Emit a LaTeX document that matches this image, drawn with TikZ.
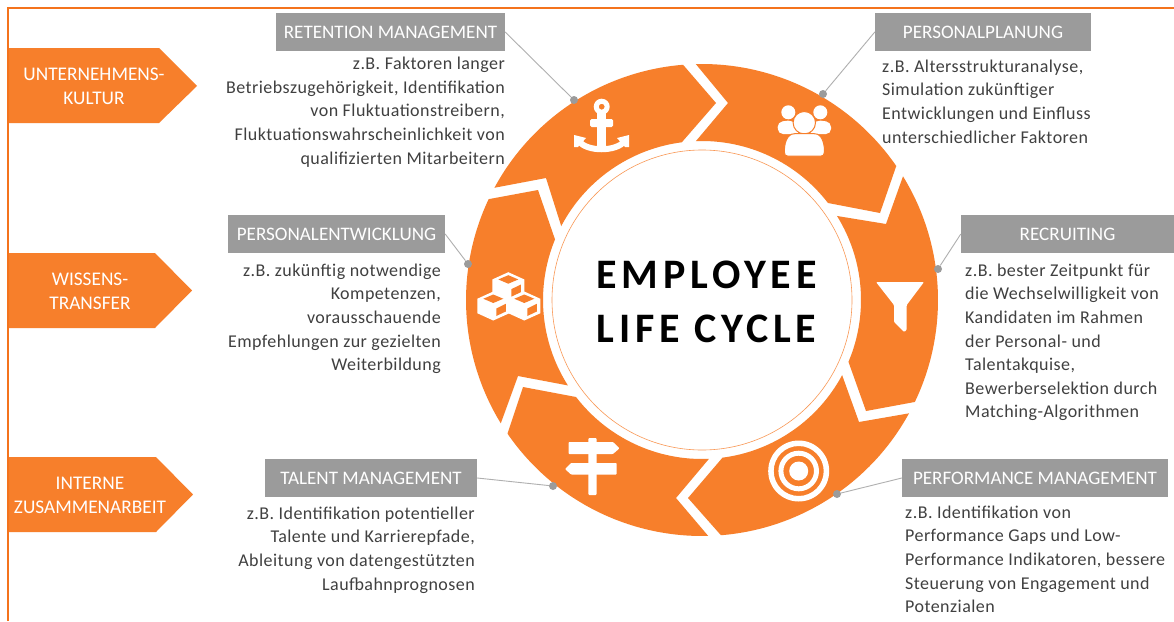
\documentclass[tikz,border=0pt]{standalone}
\usepackage{fontspec}
\setmainfont{Carlito}
\newfontfamily\titlefont[LetterSpace=11.5]{Carlito}
\newfontfamily\bodyfont[LetterSpace=2.5]{Carlito}
\definecolor{org}{HTML}{F77F2B}
\definecolor{frameorg}{HTML}{F4731C}
\definecolor{boxgray}{HTML}{9B9B9B}
\definecolor{txt}{HTML}{404040}
\tikzset{
  seg/.style={fill=org,draw=none},
  ico/.style={fill=white,draw=none},
  arrowshape/.style={fill=org,draw=none},
  arrowlabel/.style={text=white,font=\fontsize{19.3}{24}\selectfont,align=center,inner sep=0pt},
  headbox/.style={fill=boxgray,draw=none,text=white,font=\fontsize{19.1}{20}\selectfont,inner sep=0pt,minimum height=38pt},
  bodyleft/.style={text=txt,font=\bodyfont\fontsize{18}{23.6}\selectfont,align=left,anchor=north west,inner sep=0pt},
  bodyright/.style={text=txt,font=\bodyfont\fontsize{18}{23.6}\selectfont,align=right,anchor=north east,inner sep=0pt},
  leaderline/.style={draw=boxgray!80,line width=0.9pt},
  dotnode/.style={circle,fill=boxgray,draw=none,minimum size=8pt,inner sep=0pt},
}
\newcommand{\cubeicon}[2]{%
  \fill[ico] (#1,#2-14.5) -- (#1+16,#2-7.25) -- (#1+16,#2+7.25) -- (#1,#2+14.5) -- (#1-16,#2+7.25) -- (#1-16,#2-7.25) -- cycle;
  \fill[seg] (#1,#2-11.5) -- (#1+10,#2-7.25) -- (#1,#2-3) -- (#1-10,#2-7.25) -- cycle;
  \fill[seg] (#1+3,#2+2.5) -- (#1+12.5,#2-2.2) -- (#1+12.5,#2+5.5) -- (#1+3,#2+10) -- cycle;
}
\begin{document}
\begin{tikzpicture}[x=1pt,y=-1pt]
\useasboundingbox (0,0) rectangle (1174,621);
\fill[white] (0,0) rectangle (1174,621);
% frame
\draw[frameorg,line width=2pt] (8,621) -- (8,7.5) -- (1174,7.5);
% left arrows
\fill[arrowshape] (9,48) -- (159,48) -- (197,86) -- (159,123) -- (9,123) -- cycle;
\fill[arrowshape] (9,253) -- (155,253) -- (192,290.5) -- (155,328) -- (9,328) -- cycle;
\fill[arrowshape] (9,457) -- (156,457) -- (193,494.5) -- (156,532) -- (9,532) -- cycle;
\node[arrowlabel] (a1) at (94,86) {UNTERNEHMENS-\\KULTUR};
\node[arrowlabel] (a2) at (90,291) {WISSENS-\\TRANSFER};
\node[arrowlabel] (a3) at (90,495) {INTERNE\\ZUSAMMENARBEIT};
% ring
\begin{scope}[shift={(702,300)},y=1pt]
\fill[seg] (151.6:236) -- (-156,122) -- (152.3:159) arc[start angle=152.3,end angle=97.3,radius=159] -- (14,197) -- (94.6:236) arc[start angle=94.6,end angle=151.6,radius=236] -- cycle;
\fill[seg] (91.5:236) -- (26,197) -- (92.2:159) arc[start angle=92.2,end angle=37.6,radius=159] -- (178,87) -- (34.6:236) arc[start angle=34.6,end angle=91.5,radius=236] -- cycle;
\fill[seg] (31.6:236) -- (184,76) -- (31.9:159) arc[start angle=31.9,end angle=-22.9,radius=159] -- (164,-111) -- (-25.6:236) arc[start angle=-25.6,end angle=31.6,radius=236] -- cycle;
\fill[seg] (-28.7:236) -- (157,-122) -- (-28.2:159) arc[start angle=-28.2,end angle=-82.6,radius=159] -- (-14,-198) -- (-85.4:236) arc[start angle=-85.4,end angle=-28.7,radius=236] -- cycle;
\fill[seg] (-88.5:236) -- (-26,-198) -- (-87.5:159) arc[start angle=-87.5,end angle=-142.4,radius=159] -- (-179,-87) -- (-145.5:236) arc[start angle=-145.5,end angle=-88.5,radius=236] -- cycle;
\fill[seg] (211.5:236) -- (-184,-76) -- (212.5:159) arc[start angle=212.5,end angle=157.6,radius=159] -- (-164,110) -- (154.7:236) arc[start angle=154.7,end angle=211.5,radius=236] -- cycle;
\draw[org!80,line width=0.6pt] (0,0) circle[radius=150];
\end{scope}
% title
\node[font=\titlefont\bfseries\fontsize{42}{54}\selectfont,align=center,text=black,inner sep=0pt] (title) at (706.5,302) {EMPLOYEE\\LIFE CYCLE};
% anchor icon
\fill[ico,even odd rule] (601.7,106.7) circle[radius=8] (601.7,106.7) circle[radius=3];
\fill[ico,rounded corners=1.5pt] (590,119) rectangle (613,127);
\fill[ico] (597.3,113) rectangle (606.3,150);
\draw[white,line width=6pt] (579,141) .. controls (586,152) and (617,152) .. (624.5,141);
\fill[ico] (574,135) -- (586,138) -- (578,147) -- (574,147) -- cycle;
\fill[ico] (629,135) -- (617,138) -- (625,147) -- (629,147) -- cycle;
% people icon
\fill[ico] (788.3,112.3) circle[radius=7];
\fill[ico] (820.3,112.3) circle[radius=7];
\fill[ico,rounded corners=5pt] (777.5,122) -- (793,120) -- (800,134) -- (778,134) -- cycle;
\fill[ico,rounded corners=5pt] (831,122) -- (815.5,120) -- (808.5,134) -- (831,134) -- cycle;
\fill[ico,draw=org,line width=1pt] (804.3,122.7) circle[radius=11.2];
\fill[ico,draw=org,line width=1pt] (784.3,152) .. controls (784.3,138) and (790,133) .. (796,133.5) -- (813,133.5) .. controls (819,133) and (824.5,138) .. (824.5,152) .. controls (824.5,155) and (823,156.2) .. (820.5,156.2) -- (788,156.2) .. controls (785.5,156.2) and (784.3,155) .. (784.3,152) -- cycle;
% funnel icon
\fill[ico,rounded corners=1pt] (876,282) -- (924,282) -- (906.7,305) -- (906.7,330) -- (904,332) -- (894,322) -- (894,305) -- cycle;
% target icon
\fill[ico,even odd rule] (798.7,471) circle[radius=30.5] (798.7,471) circle[radius=25];
\fill[ico,even odd rule] (798.7,471) circle[radius=20.3] (798.7,471) circle[radius=15.3];
\fill[ico] (798.7,471) circle[radius=9.5];
% signpost icon
\fill[ico,rounded corners=1pt] (588.3,438) rectangle (596.7,495);
\fill[ico,rounded corners=.8pt] (568.5,442) -- (613,442) -- (619.5,448.3) -- (613,454) -- (568.5,454) -- cycle;
\fill[ico,rounded corners=.8pt] (616.7,463) -- (571,463) -- (565,469) -- (571,474.5) -- (616.7,474.5) -- cycle;
% cubes icon
\cubeicon{508.3}{286.7}
\cubeicon{493.3}{306}
\cubeicon{524.3}{306}
% header boxes
\node[headbox,minimum width=229pt] (ret) at (390.5,32) {RETENTION MANAGEMENT};
\node[headbox,minimum width=216pt] (pla) at (983,32) {PERSONALPLANUNG};
\node[headbox,minimum width=217pt] (ent) at (336.5,234) {PERSONALENTWICKLUNG};
\node[headbox,minimum width=213pt] (rec) at (1067.5,234) {RECRUITING};
\node[headbox,minimum width=212pt] (tal) at (371,478) {TALENT MANAGEMENT};
\node[headbox,minimum width=266pt] (per) at (1035,478) {PERFORMANCE MANAGEMENT};
% leader dots and lines
\node[dotnode] (d1) at (574,100) {};
\node[dotnode] (d2) at (823,94) {};
\node[dotnode] (d3) at (938,269) {};
\node[dotnode] (d4) at (837,494) {};
\node[dotnode] (d5) at (553,486) {};
\node[dotnode] (d6) at (468,264) {};
\draw[leaderline] (ret.east) -- (d1);
\draw[leaderline] (pla.west) -- (d2);
\draw[leaderline] (rec.west) -- (d3);
\draw[leaderline] (per.west) -- (d4);
\draw[leaderline] (tal.east) -- (d5);
\draw[leaderline] (ent.east) -- (d6);
% body texts
\node[bodyright] (t1) at (505,57) {z.B. Faktoren langer\\Betriebszugehörigkeit, Identifikation\\von Fluktuationstreibern,\\Fluktuationswahrscheinlichkeit von\\qualifizierten Mitarbeitern};
\node[bodyleft] (t2) at (882,59.5) {z.B. Altersstrukturanalyse,\\Simulation zukünftiger\\Entwicklungen und Einfluss\\unterschiedlicher Faktoren};
\node[bodyright] (t3) at (441,263.5) {z.B. zukünftig notwendige\\Kompetenzen,\\vorausschauende\\Empfehlungen zur gezielten\\Weiterbildung};
\node[bodyleft] (t4) at (965,263.5) {z.B. bester Zeitpunkt für\\die Wechselwilligkeit von\\Kandidaten im Rahmen\\der Personal- und\\Talentakquise,\\Bewerberselektion durch\\Matching-Algorithmen};
\node[bodyright] (t5) at (475,506.5) {z.B. Identifikation potentieller\\Talente und Karrierepfade,\\Ableitung von datengestützten\\Laufbahnprognosen};
\node[bodyleft] (t6) at (905,505.5) {z.B. Identifikation von\\Performance Gaps und Low-\\Performance Indikatoren, bessere\\Steuerung von Engagement und\\Potenzialen};
\end{tikzpicture}
\end{document}
